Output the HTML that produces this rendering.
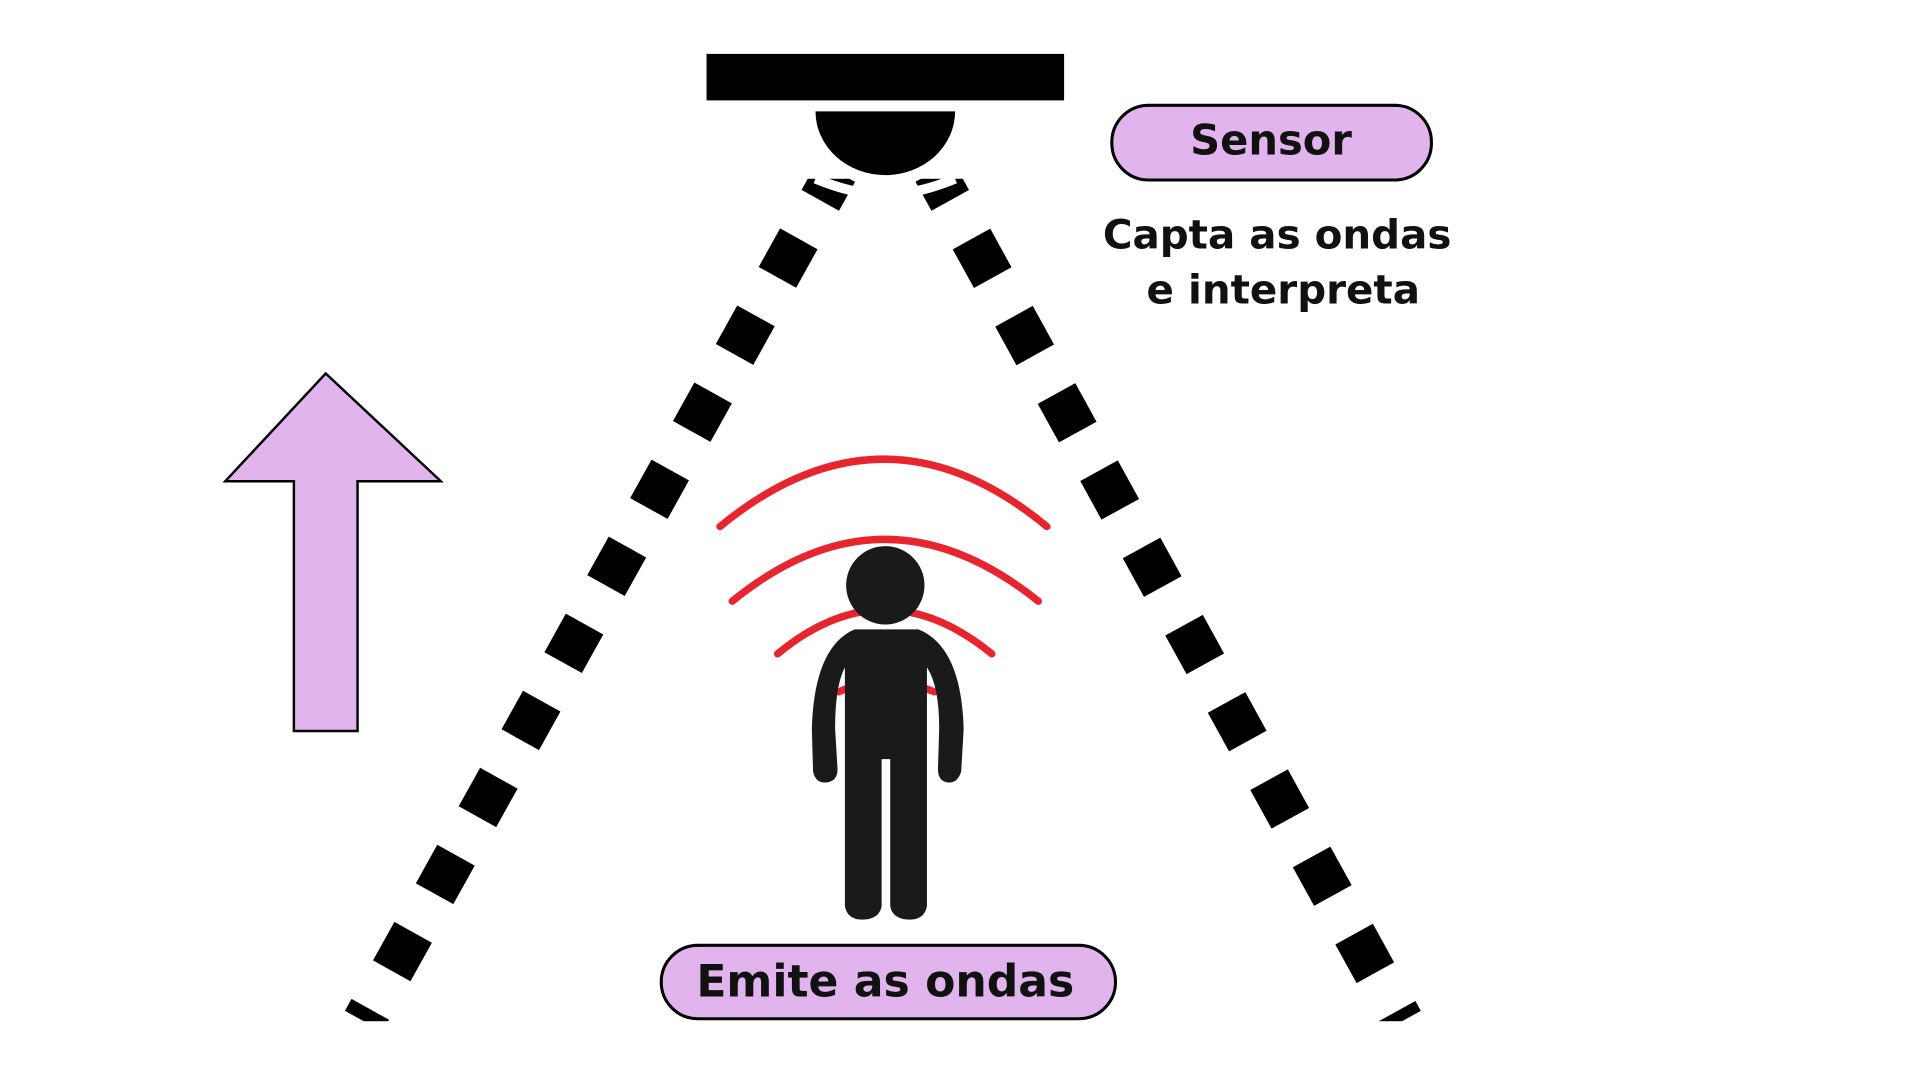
<!DOCTYPE html>
<html><head><meta charset="utf-8"><style>
html,body{margin:0;padding:0;background:#fff;}
svg{display:block;}
text{font-family:"DejaVu Sans","Liberation Sans",sans-serif;font-weight:bold;fill:#111;}
</style></head><body>
<svg width="1920" height="1080" viewBox="0 0 1568 882" xmlns="http://www.w3.org/2000/svg">
<rect width="1568" height="882" fill="#fff"/>
<rect x="577" y="44" width="292" height="38" fill="#000"/>
<g stroke="#000" stroke-width="35" stroke-dasharray="36 36" stroke-dashoffset="9" fill="none">
<line x1="683" y1="140" x2="297" y2="834"/>
<line x1="763" y1="140" x2="1145" y2="834"/>
</g>
<rect x="0" y="834" width="1568" height="48" fill="#fff"/>
<rect x="640" y="84" width="170" height="62" fill="#fff"/>
<path d="M666 146 Q700 160 723 158 Q746 160 780 146" fill="none" stroke="#fff" stroke-width="8"/>
<path d="M666 91 A57 52 0 0 0 780 91 Z" fill="#000"/>
<polygon points="184,393 266,305 360,393 292,393 292,597 240,597 240,393" fill="#e2b4ee" stroke="#000" stroke-width="2"/>
<g fill="none" stroke="#e8252f" stroke-width="6" stroke-linecap="round">
<path d="M588 430 Q722 320 855 430"/>
<path d="M598 491 Q722 390 848 491"/>
<path d="M635 534 Q722 462 810 534"/>
<path d="M685 565 Q722 548 763 565"/>
</g>
<g fill="#1a1a1a">
<circle cx="723" cy="478" r="32"/>
<path d="M698 514 L750 514 Q785 528 787 595 L785 630 Q782 640 774 639 Q766 638 766 628 L767 595 Q767 560 757 545 L757 740 Q755 751 743 751 Q729 751 727 740 L727 620 L720 620 L720 740 Q718 751 704 751 Q692 751 690 740 L690 545 Q682 560 682 595 L684 628 Q684 638 675 639 Q666 640 664 630 L663 595 Q665 528 698 514 Z"/>
</g>
<rect x="908" y="86" width="261" height="61" rx="30" fill="#e2b4ee" stroke="#000" stroke-width="2.5"/>
<text x="1038" y="126" font-size="34" text-anchor="middle">Sensor</text>
<text x="1043" y="203" font-size="33" text-anchor="middle">Capta as ondas</text>
<text x="1048" y="248" font-size="33" text-anchor="middle">e interpreta</text>
<rect x="540" y="772" width="371" height="60" rx="30" fill="#e2b4ee" stroke="#000" stroke-width="2.5"/>
<text x="723" y="814" font-size="36" text-anchor="middle">Emite as ondas</text>
</svg>
</body></html>
